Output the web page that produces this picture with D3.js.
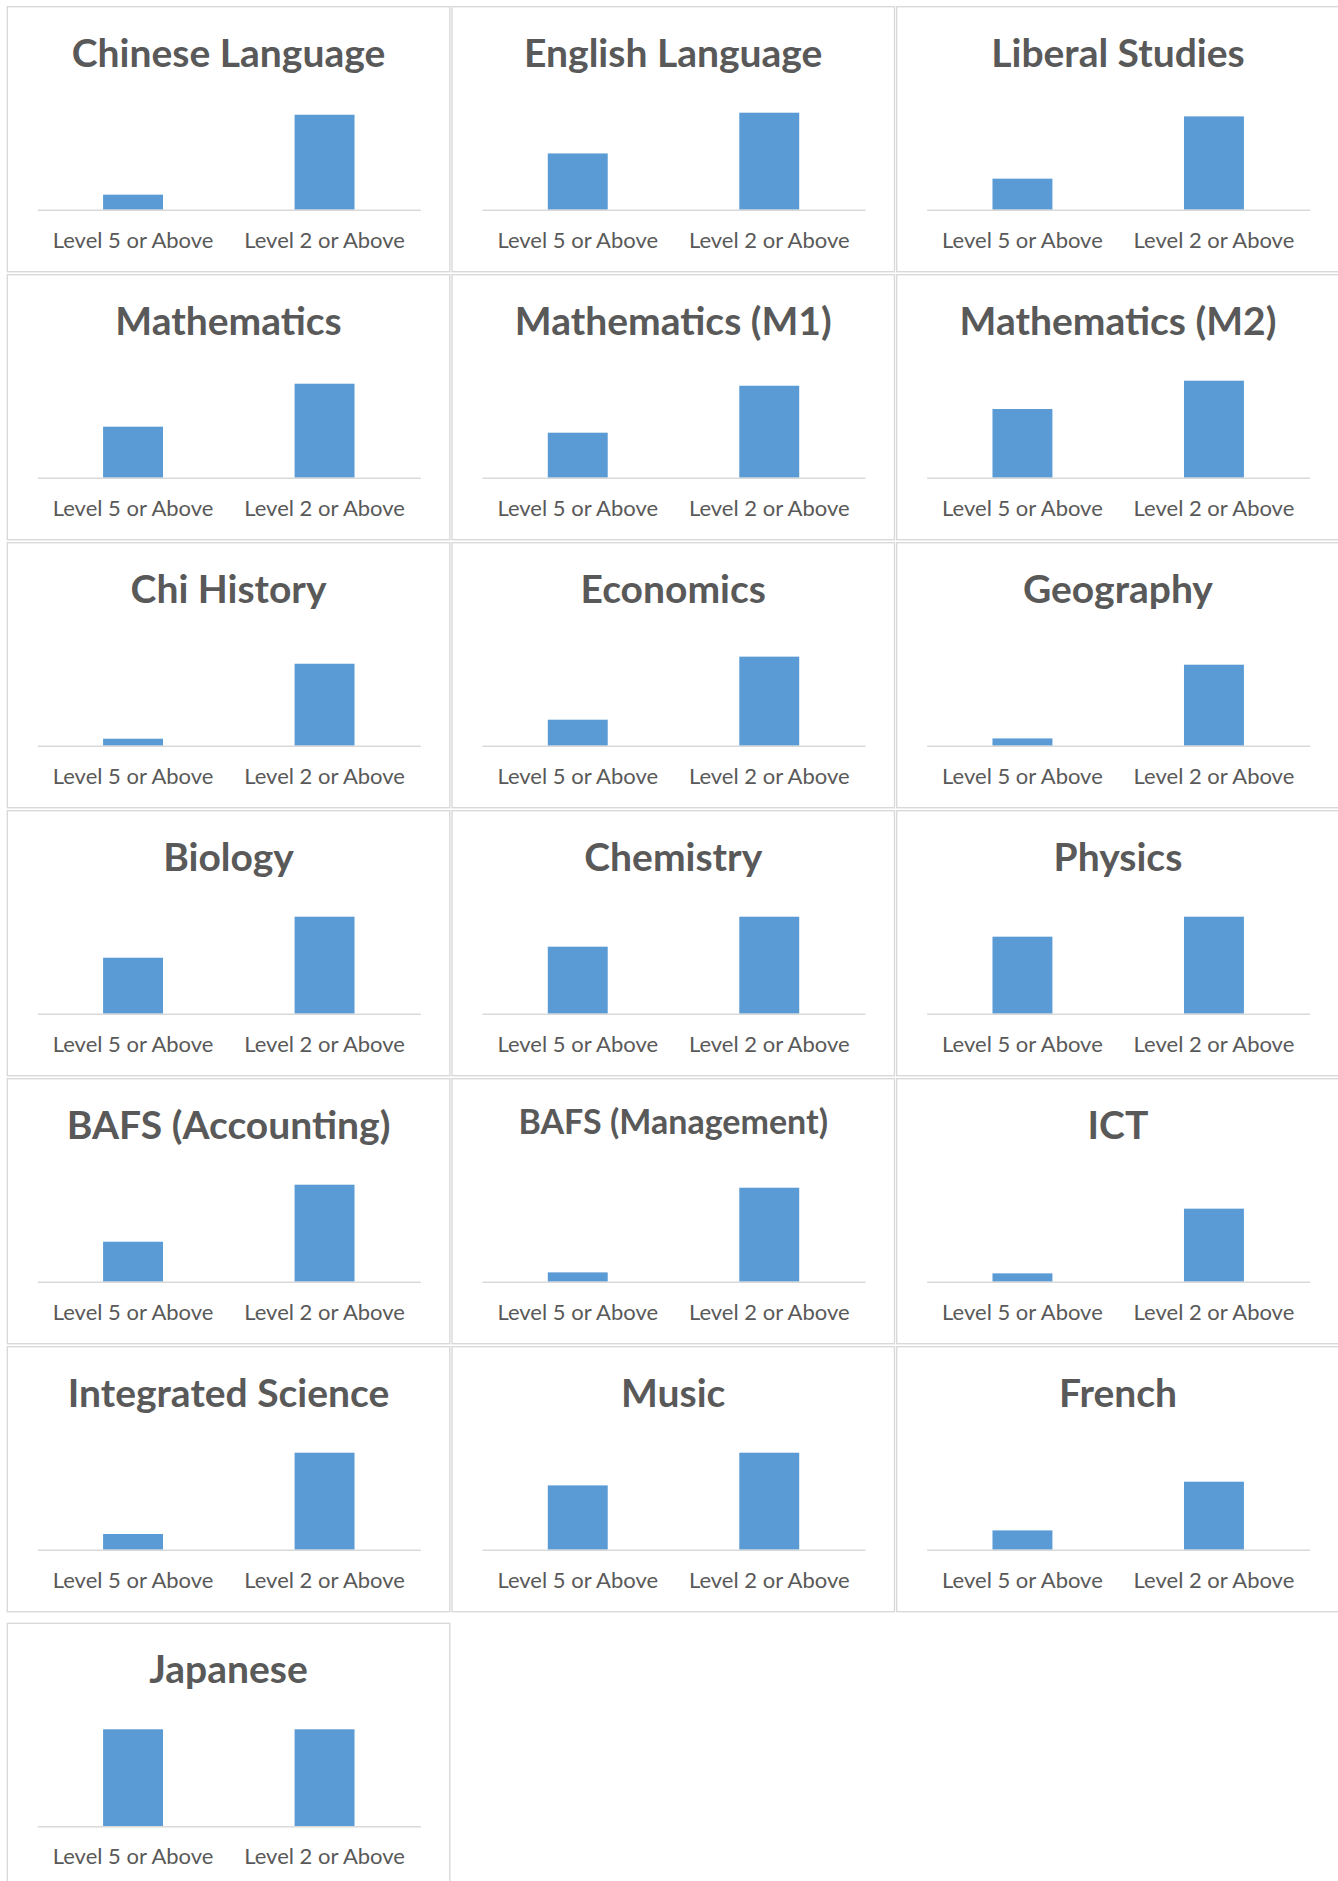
<!DOCTYPE html>
<html>
<head>
<meta charset="utf-8">
<script src="https://cdn.jsdelivr.net/npm/d3@7"></script>
<style>
  html, body { margin: 0; padding: 0; background: #ffffff; }
  svg { display: block; }
</style>
</head>
<body>
<svg id="chart" width="1338" height="1881"></svg>
<script>
// ---- data (percent of candidates) ----
const subjects = [
  "Chinese Language", "English Language", "Liberal Studies",
  "Mathematics", "Mathematics (M1)", "Mathematics (M2)",
  "Chi History", "Economics", "Geography",
  "Biology", "Chemistry", "Physics",
  "BAFS (Accounting)", "BAFS (Management)", "ICT",
  "Integrated Science", "Music", "French",
  "Japanese"
];
const categories = ["Level 5 or Above", "Level 2 or Above"];
const level5Values = [
  15.5, 58.0, 32.0,
  52.6, 46.4, 70.8,
  7.2, 26.8, 7.5,
  57.7, 69.1, 79.4,
  41.2, 9.6, 8.6,
  16.2, 66.3, 19.9,
  100
];
const level2Values = [
  97.9, 100, 96.2,
  96.9, 94.8, 100,
  84.5, 91.8, 83.5,
  100, 100, 100,
  100, 96.9, 75.3,
  100, 100, 70.1,
  100
];

// ---- layout / style ----
const TEXT = "#595959", BAR = "#5B9BD5", LINE = "#D9D9D9";
const panelW = 442.5, panelH = 265;
const colX0 = 7.3, colPitch = 444.7;
const rowY0 = 6.7, rowPitch = 268;
const smallTitles = new Set(["BAFS (Management)"]);

const svg = d3.select("#chart");

const x = d3.scaleBand().domain(categories).range([30, 413])
  .paddingInner(0.687).paddingOuter(0.3435);
const y = d3.scaleLinear().domain([0, 100]).range([203, 106]);

subjects.forEach((name, i) => {
  const col = i % 3, row = Math.floor(i / 3);
  const px = colX0 + col * colPitch;
  const py = rowY0 + row * rowPitch + (row === 6 ? 8.6 : 0);
  const g = svg.append("g").attr("transform", `translate(${px},${py})`);

  g.append("rect")
    .attr("x", 0).attr("y", 0)
    .attr("width", panelW).attr("height", panelH)
    .attr("fill", "#ffffff")
    .attr("stroke", LINE).attr("stroke-width", 1.4);

  const small = smallTitles.has(name);
  g.append("text")
    .attr("x", panelW / 2)
    .attr("y", small ? 55 : 60)
    .attr("text-anchor", "middle")
    .attr("font-family", "Lato, 'Open Sans', sans-serif")
    .attr("font-weight", 700)
    .attr("font-size", small ? 34 : 39)
    .attr("fill", TEXT)
    .text(name);

  const vals = [level5Values[i], level2Values[i]];
  g.selectAll("rect.bar")
    .data(categories.map((c, k) => ({ c, v: vals[k] })))
    .join("rect")
    .attr("class", "bar")
    .attr("x", d => x(d.c))
    .attr("width", x.bandwidth())
    .attr("y", d => y(d.v))
    .attr("height", d => y(0) - y(d.v))
    .attr("fill", BAR);

  const axis = g.append("g")
    .attr("transform", `translate(0,${y(0)})`)
    .call(d3.axisBottom(x).tickSize(0).tickSizeOuter(0));
  axis.select(".domain").attr("stroke", LINE).attr("stroke-width", 1.6);
  axis.selectAll(".tick text")
    .attr("y", 38).attr("dy", 0)
    .attr("font-family", "Lato, 'Open Sans', sans-serif")
    .attr("font-size", 22)
    .attr("fill", TEXT);
});
</script>
</body>
</html>
